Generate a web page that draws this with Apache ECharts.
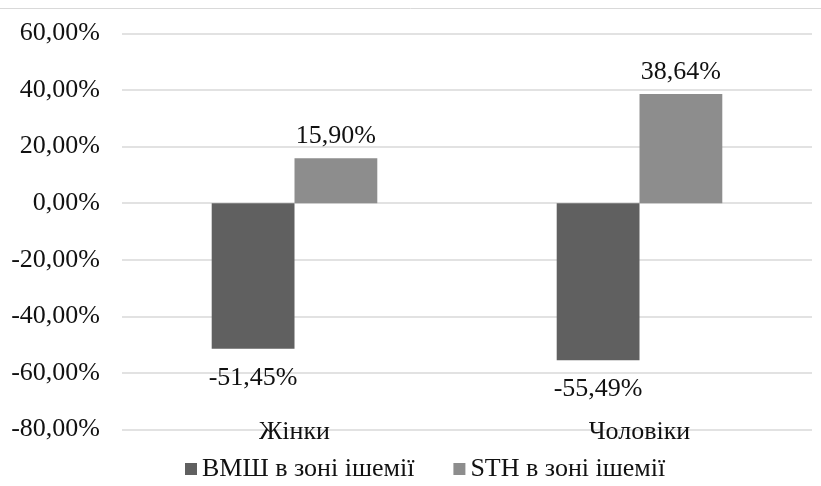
<!DOCTYPE html>
<html>
<head>
<meta charset="utf-8">
<title>ВМШ і STH в зоні ішемії</title>
<script src="https://cdn.jsdelivr.net/npm/echarts@6/dist/echarts.min.js"></script>
<style>
  html, body { margin: 0; padding: 0; background: #fff; }
  #chart { width: 821px; height: 486px; }
</style>
</head>
<body>
<div id="chart"></div>
<script>
// Categories and series values (percent)
const categories = ['Жінки', 'Чоловіки'];
const seriesNames = ['ВМШ в зоні ішемії', 'STH в зоні ішемії'];
const vmshValues = [-51.45, -55.49];
const sthValues = [15.90, 38.64];
const yTicks = { min: -80, max: 60, interval: 20 };

const FONT = 'Liberation Serif';
const FS = 26;
const fmt = v => v.toFixed(2).replace('.', ',') + '%';

// Labels sit above positive bars and below negative ones
function toItems(values) {
  return values.map(v => ({
    value: v,
    label: { distance: v < 0 ? 16 : 9 }
  }));
}

const chart = echarts.init(document.getElementById('chart'), null, { renderer: 'canvas' });

const valueLabel = {
  show: true,
  position: 'outside',
  fontFamily: FONT,
  fontSize: FS,
  color: '#111',
  formatter: p => fmt(p.value)
};

chart.setOption({
  animation: false,
  backgroundColor: '#ffffff',
  textStyle: { fontFamily: FONT },
  graphic: [{
    type: 'line',
    shape: { x1: 0, y1: 8.5, x2: 821, y2: 8.5 },
    style: { stroke: '#d9d9d9', lineWidth: 1 }
  }],
  grid: { left: 122, right: 9, top: 33.5, bottom: 56.5, containLabel: false },
  legend: {
    data: seriesNames,
    left: 185,
    top: 456,
    padding: 0,
    icon: 'rect',
    itemWidth: 12,
    itemHeight: 12,
    itemGap: 39,
    textStyle: { fontFamily: FONT, fontSize: FS, color: '#111', fontWeight: 'normal' }
  },
  xAxis: {
    type: 'category',
    data: categories,
    axisLine: { show: false, onZero: false },
    axisTick: { show: false },
    axisLabel: {
      fontFamily: FONT,
      fontSize: FS,
      color: '#111',
      verticalAlign: 'middle',
      margin: 3
    },
    splitLine: { show: false }
  },
  yAxis: {
    type: 'value',
    min: yTicks.min,
    max: yTicks.max,
    interval: yTicks.interval,
    axisLine: { show: false },
    axisTick: { show: false },
    axisLabel: {
      fontFamily: FONT,
      fontSize: FS,
      color: '#111',
      margin: 22,
      formatter: fmt
    },
    splitLine: { lineStyle: { color: '#d9d9d9', width: 1.5 } }
  },
  series: [
    {
      name: seriesNames[0],
      type: 'bar',
      data: toItems(vmshValues),
      barWidth: '24%',
      barGap: '0%',
      itemStyle: { color: '#606060' },
      label: valueLabel
    },
    {
      name: seriesNames[1],
      type: 'bar',
      data: toItems(sthValues),
      barWidth: '24%',
      barGap: '0%',
      itemStyle: { color: '#8d8d8d' },
      label: valueLabel
    }
  ]
});
</script>
</body>
</html>
